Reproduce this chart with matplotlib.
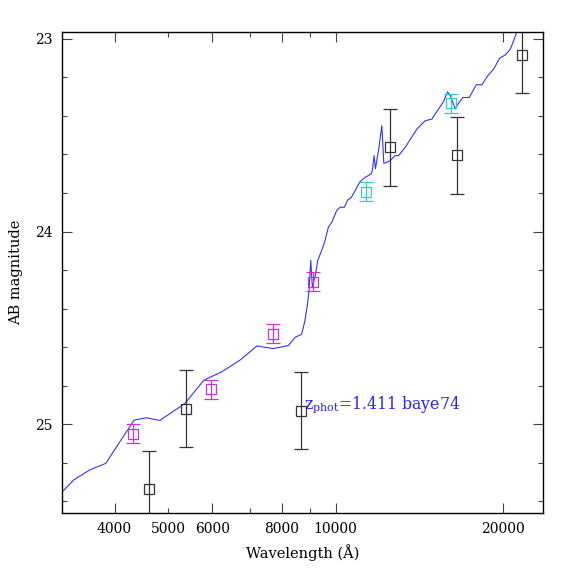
import numpy as np
import matplotlib
matplotlib.use('Agg')
import matplotlib.pyplot as plt
from matplotlib.ticker import FixedLocator, FixedFormatter

plt.rcParams['font.family'] = ['DejaVu Serif']
plt.rcParams['mathtext.fontset'] = 'dejavuserif'

# model SED (wavelength in Angstrom, AB mag)
model_wl = [3200, 3377, 3608, 3856, 4337, 4565, 4825, 5352, 5790, 6232,
            6724, 7214, 7720, 8214, 8464, 8683, 8805, 8889, 8952, 9016,
            9075, 9177, 9281, 9436, 9565, 9698, 9835, 10041, 10179, 10363,
            10510, 10656, 10834, 11060, 11292, 11576, 11637, 11722, 11786, 11935,
            12104, 12205, 12357, 12527, 12791, 12969, 13334, 13994, 14485, 14894,
            15308, 15629, 15890, 16068, 16406, 16632, 16937, 17388, 17900, 18330,
            18762, 19231, 19716, 20184, 20606, 20893, 21188, 21572]
model_mag = [25.360, 25.290, 25.238, 25.204, 24.979, 24.967, 24.981, 24.893, 24.772, 24.729,
             24.668, 24.594, 24.608, 24.592, 24.548, 24.534, 24.461, 24.383, 24.306, 24.150,
             24.289, 24.237, 24.150, 24.098, 24.047, 23.978, 23.952, 23.891, 23.874, 23.874,
             23.836, 23.825, 23.788, 23.741, 23.719, 23.701, 23.684, 23.606, 23.674, 23.580,
             23.451, 23.646, 23.641, 23.632, 23.606, 23.606, 23.563, 23.468, 23.425, 23.416,
             23.364, 23.326, 23.275, 23.292, 23.364, 23.333, 23.304, 23.304, 23.238, 23.238,
             23.192, 23.157, 23.100, 23.083, 23.053, 23.010, 22.962, 22.896]

# photometry
grey_wl = [4604, 5381, 8647, 12544, 16520, 21660]
grey_mag = [25.338, 24.919, 24.931, 23.563, 23.603, 23.083]
grey_err = [0.2, 0.2, 0.2, 0.2, 0.2, 0.2]

mag_wl = [4317, 5960, 7720, 9090]
mag_mag = [25.05, 24.82, 24.53, 24.26]
mag_err = [0.05, 0.05, 0.05, 0.05]

cyan_wl = [11340, 16088]
cyan_mag = [23.793, 23.335]
cyan_err = [0.05, 0.05]

major_x = [4000, 6000, 8000, 10000, 20000]
minor_x = [5000, 7000, 9000]
minor_x_labels = ['5000', '', '']

fig = plt.figure(figsize=(5.74, 5.74), dpi=100)
ax = fig.add_axes([62/574, 61.5/574, 481/574, 480.5/574])

ax.plot(model_wl, model_mag, color='#3333ff', lw=0.8)

ax.errorbar(grey_wl, grey_mag, yerr=grey_err, fmt='s', color='#333333',
            mfc='none', ms=6.5, mew=0.9, elinewidth=0.9, capsize=4.7, capthick=0.9)
ax.errorbar(mag_wl, mag_mag, yerr=mag_err, fmt='s', color='#cc33cc',
            mfc='none', ms=6.5, mew=0.9, elinewidth=0.9, capsize=5, capthick=0.9)
ax.errorbar(cyan_wl, cyan_mag, yerr=cyan_err, fmt='s', color='#33cccc',
            mfc='none', ms=6.5, mew=0.9, elinewidth=0.9, capsize=5, capthick=0.9)

ax.set_xscale('log')
ax.set_xlim(3217, 23600)
ax.set_ylim(25.459, 22.964)

ax.xaxis.set_major_locator(FixedLocator(major_x))
ax.xaxis.set_major_formatter(FixedFormatter([str(v) for v in major_x]))
ax.xaxis.set_minor_locator(FixedLocator(minor_x))
ax.xaxis.set_minor_formatter(FixedFormatter(minor_x_labels))

ax.set_yticks([23, 24, 25])
ax.set_yticks(np.arange(23.0, 25.5, 0.2), minor=True)

ax.tick_params(which='both', direction='in', top=True, right=True,
               labelsize=10, width=0.8, color='#444444')
ax.tick_params(which='major', length=7.2, pad=7)
ax.tick_params(which='minor', length=3.6, pad=7)
ax.tick_params(axis='y', which='minor', labelleft=False)
for s in ax.spines.values():
    s.set_linewidth(1.0)

ax.set_xlabel('Wavelength (Å)', fontsize=10.5, labelpad=6)
ax.set_ylabel('AB magnitude', fontsize=10.5, labelpad=8)

ax.text(0.503, 0.224, r'$\mathrm{z_{phot}}$=1.411 baye74', transform=ax.transAxes,
        color='#2222ff', fontsize=11.3, va='center', ha='left')

fig.savefig('out.png', dpi=100)
